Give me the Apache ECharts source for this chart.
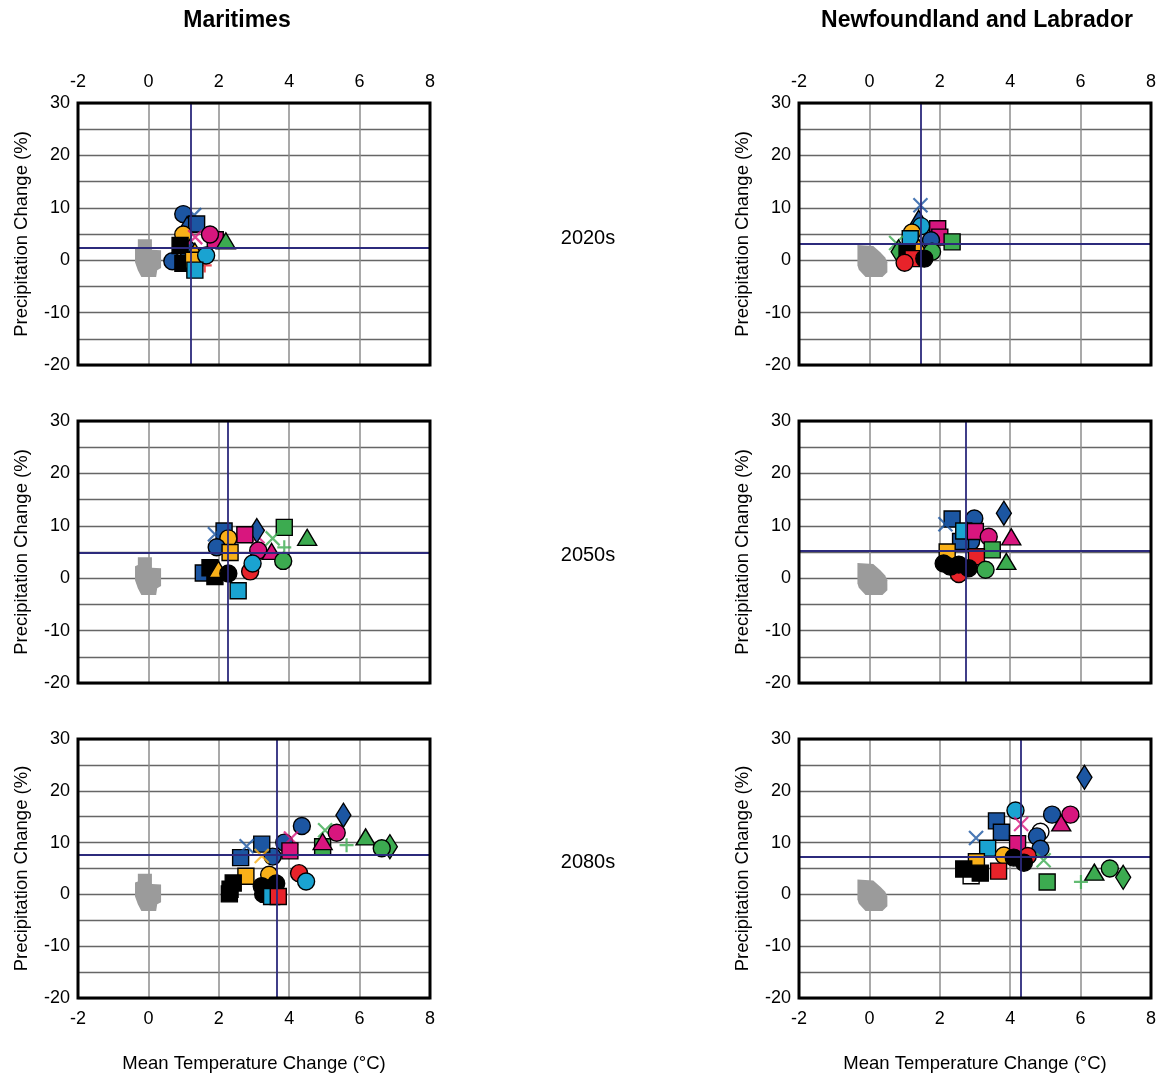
<!DOCTYPE html>
<html><head><meta charset="utf-8">
<script src="https://cdn.jsdelivr.net/npm/echarts@6/dist/echarts.min.js"></script>
<style>html,body{margin:0;padding:0;background:#fff}#c{width:1159px;height:1074px}</style>
</head><body><div id="c"></div>
<script>
// ---- data ----
const regions = ['Maritimes', 'Newfoundland and Labrador'];
const periods = ['2020s', '2050s', '2080s'];
const xTicks = [-2, 0, 2, 4, 6, 8];
const yTicks = [-20, -10, 0, 10, 20, 30];

// [modelStyle, temperature change (°C), precipitation change (%)]
const mar2020 = [
 ['navyCircle',0.99,8.8],['navyX',1.3,8.6],['navyTriangle',1.1,6.8],['navySquare',1.37,6.9],
 ['orangeCircle',0.99,4.9],['magentaX',1.33,4.4],['magentaSquare',1.9,3.9],['magentaCircle',1.75,4.9],
 ['greenTriangle',2.2,3.7],['blackSquare',0.9,2.8],['navyCircle',1.09,2.2],['orangeTriangle',1.32,1.7],
 ['blackSquare',0.98,-0.6],['navyCircle',0.68,-0.2],['orangeSquare',1.28,0.0],['redPlus',1.6,-1.0],
 ['cyanCircle',1.64,0.9],['cyanSquare',1.32,-1.9]];
const nl2020 = [
 ['navyX',1.45,10.5],['navyTriangle',1.4,8.0],['cyanCircle',1.47,6.5],['magentaSquare',1.94,6.0],
 ['orangeCircle',1.21,5.3],['cyanSquare',1.16,4.1],['magentaSquare',2.0,4.4],['greenSquare',2.35,3.5],
 ['navyCircle',1.75,3.8],['greenX',0.76,3.3],['greenDiamond',0.83,1.6],['orangeTriangle',1.4,2.5],
 ['blackSquare',1.07,1.3],['greenCircle',1.78,1.6],['redSquare',1.24,0.3],['blackCircle',1.56,0.3],
 ['redCircle',1.0,-0.5]];
const mar2050 = [
 ['navySquare',2.15,9.0],['navyX',1.89,8.4],['magentaX',3.1,8.0],['navyDiamond',3.08,9.1],['magentaSquare',2.74,8.3],
 ['greenSquare',3.86,9.7],['greenTriangle',4.51,7.8],['greenX',3.53,7.6],['greenPlus',3.86,5.9],
 ['orangeCircle',2.27,7.6],['navyCircle',1.94,5.9],['orangeSquare',2.32,4.9],['magentaCircle',3.12,5.3],
 ['magentaTriangle',3.5,5.1],['greenCircle',3.83,3.3],['redCircle',2.89,1.3],['cyanCircle',2.96,2.8],
 ['blackSquare',1.75,2.0],['orangeTriangle',1.99,1.7],['navySquare',1.56,1.0],['blackCircle',2.27,0.9],
 ['blackSquare',1.89,0.3],['cyanSquare',2.55,-2.4]];
const nl2050 = [
 ['navyDiamond',3.82,12.4],['navyCircle',2.98,11.4],['navySquare',2.35,11.3],['navyX',2.16,10.3],
 ['cyanSquare',2.68,9.0],['magentaSquare',3.01,8.9],['magentaCircle',3.39,7.9],['magentaTriangle',4.03,7.9],
 ['navySquare',2.59,7.0],['navyCircle',2.89,7.0],['greenSquare',3.49,5.4],['orangeSquare',2.21,5.0],
 ['redSquare',3.04,4.1],['greenTriangle',3.89,3.2],['redCircle',2.54,0.8],['blackCircle',2.11,2.8],
 ['blackCircle',2.30,2.2],['blackCircle',2.54,2.6],['blackCircle',2.82,1.9],['greenCircle',3.3,1.6]];
const mar2080 = [
 ['navyDiamond',5.54,15.3],['navyCircle',4.36,13.2],['greenX',5.02,12.4],['magentaCircle',5.35,11.9],
 ['greenTriangle',6.17,11.1],['greenSquare',4.95,9.2],['magentaTriangle',4.95,10.2],['greenPlus',5.63,9.5],
 ['greenDiamond',6.86,9.2],['greenCircle',6.63,8.9],['magentaX',4.05,10.8],['navyCircle',3.86,10.0],
 ['magentaSquare',4.02,8.4],['navySquare',3.22,9.7],['navyX',2.79,9.3],['orangeX',3.22,7.4],
 ['navyCircle',3.53,7.3],['navySquare',2.62,7.1],['orangeSquare',2.77,3.5],['orangeCircle',3.43,3.8],
 ['redCircle',4.28,4.1],['cyanCircle',4.48,2.5],['blackSquare',2.41,2.2],['blackSquare',2.32,1.0],
 ['blackSquare',2.3,0.1],['blackCircle',3.22,1.6],['blackCircle',3.63,2.1],['blackCircle',3.26,0.1],
 ['cyanSquare',3.5,-0.4],['redSquare',3.69,-0.4]];
const nl2080 = [
 ['navyDiamond',6.11,22.6],['cyanCircle',4.15,16.2],['navyCircle',5.19,15.4],['magentaCircle',5.71,15.4],
 ['magentaTriangle',5.45,13.8],['navySquare',3.61,14.2],['magentaX',4.31,13.6],['navySquare',3.75,12.0],
 ['whiteCircle',4.86,12.1],['navyCircle',4.76,11.2],['navyX',3.03,10.9],['magentaSquare',4.21,9.8],
 ['navyCircle',4.86,8.8],['cyanSquare',3.36,8.9],['orangeCircle',3.82,7.5],['redCircle',4.5,7.4],
 ['greenX',4.95,6.6],['blackCircle',4.1,7.1],['blackCircle',4.39,6.1],['orangeSquare',3.04,6.3],
 ['whiteSquare',2.89,3.6],['blackSquare',2.68,4.9],['blackSquare',3.15,4.1],['redSquare',3.67,4.5],
 ['greenSquare',5.05,2.4],['greenPlus',6.01,2.4],['greenTriangle',6.39,4.3],['greenCircle',6.83,5.0],
 ['greenDiamond',7.21,3.3]];

// ensemble-mean crosshair [temperature, precipitation] per period
const marMean = [[1.21,2.35],[2.26,4.85],[3.64,7.7]];
const nlMean  = [[1.45,3.1],[2.73,5.3],[4.31,7.2]];

// natural-variability cloud outlines (temperature, precipitation)
const marBlob = [[-0.3,4.0],[0.1,4.0],[0.1,2.0],[0.36,1.9],[0.36,-1.5],[0.25,-1.9],[0.22,-3.2],
 [-0.2,-3.2],[-0.3,-1.9],[-0.38,-0.4],[-0.38,2.3],[-0.3,2.5]];
const nlBlob = [[-0.34,2.9],[0.11,2.7],[0.31,1.5],[0.45,0.5],[0.51,-0.4],[0.51,-2.3],[0.37,-3.2],
 [-0.11,-3.2],[-0.3,-1.8],[-0.34,-1.0]];

// ---- styling ----
const COLORS = {navy:'#1c56a2', cyan:'#1aa3d1', orange:'#f9b019', magenta:'#d8167e',
  green:'#3cab50', red:'#e8232a', black:'#000000', white:'#ffffff'};
const SHAPES = {
  Circle:{symbol:'circle', size:17},
  Square:{symbol:'rect', size:16},
  Triangle:{symbol:'triangle', size:[19,16]},
  Diamond:{symbol:'diamond', size:[15,24]},
  X:{symbol:'path://M0,0L10,10M10,0L0,10', size:14, line:true},
  Plus:{symbol:'path://M5,0L5,10M0,5L10,5', size:14, line:true}
};
function styleOf(key){
  const m = key.match(/^([a-z]+)([A-Z][a-z]*)$/);
  return {color: COLORS[m[1]], shape: SHAPES[m[2]], white: m[1]==='white'};
}

const FONT = 'Helvetica, Arial, "Liberation Sans", sans-serif';
const colLeft = [78, 799];
const colCenter = [237, 977];
const rowTop = [103, 421, 739];
const rowMid = [238, 555, 862];
const PW = 352, PH = 262;

const panels = [
 {d:mar2020, blob:marBlob, mean:marMean[0], c:0, r:0},
 {d:nl2020,  blob:nlBlob,  mean:nlMean[0],  c:1, r:0},
 {d:mar2050, blob:marBlob, mean:marMean[1], c:0, r:1},
 {d:nl2050,  blob:nlBlob,  mean:nlMean[1],  c:1, r:1},
 {d:mar2080, blob:marBlob, mean:marMean[2], c:0, r:2},
 {d:nl2080,  blob:nlBlob,  mean:nlMean[2],  c:1, r:2}
];

const grids=[], xAxes=[], yAxes=[], series=[];
panels.forEach((p,i)=>{
  grids.push({left:colLeft[p.c], top:rowTop[p.r], width:PW, height:PH, z:20,
    show:true, borderColor:'#000', borderWidth:3, backgroundColor:'transparent'});
  xAxes.push({type:'value', gridIndex:i, min:xTicks[0], max:xTicks[xTicks.length-1], interval:2,
    position: p.r===0 ? 'top' : 'bottom',
    axisLine:{show:false}, axisTick:{show:false},
    axisLabel:{show:p.r!==1, color:'#000', fontSize:18, fontFamily:FONT, margin:12},
    splitLine:{show:true, lineStyle:{color:'#8c8c8c', width:1.5}},
    name: p.r===2 ? 'Mean Temperature Change (°C)' : '',
    nameLocation:'middle', nameGap:56,
    nameTextStyle:{color:'#000', fontSize:18.5, fontFamily:FONT}});
  yAxes.push({type:'value', gridIndex:i, min:yTicks[0], max:yTicks[yTicks.length-1], interval:5,
    axisLine:{show:false}, axisTick:{show:false},
    axisLabel:{color:'#000', fontSize:18, fontFamily:FONT, margin:8,
      formatter:v=> yTicks.includes(v) ? String(v) : ''},
    splitLine:{show:true, lineStyle:{color:'#666', width:1.3}},
    name:'Precipitation Change (%)', nameLocation:'middle', nameGap:47,
    nameTextStyle:{color:'#000', fontSize:18.5, fontFamily:FONT}});
  // variability cloud
  series.push({type:'custom', xAxisIndex:i, yAxisIndex:i, z:1, silent:true,
    data:[0],
    renderItem:(params, api)=>({type:'polygon',
      shape:{points:p.blob.map(pt=>api.coord(pt))},
      style:{fill:'#9b9b9b', stroke:null}})});
  // model markers grouped by style
  const order=[]; const groups={};
  p.d.forEach(([k,x,y])=>{ if(!groups[k]){groups[k]=[]; order.push(k);} groups[k].push([x,y]); });
  order.forEach(k=>{
    const s = styleOf(k);
    const line = s.shape.line;
    series.push({type:'scatter', xAxisIndex:i, yAxisIndex:i, z: s.white?2:3, silent:true,
      symbol:s.shape.symbol, symbolSize:s.shape.size, data:groups[k],
      itemStyle: line ? {color:'transparent', borderColor:s.color, borderWidth:2.2}
                      : {color:s.color, borderColor:'#000', borderWidth:1.4, opacity:1}});
  });
  // ensemble mean crosshair
  series.push({type:'scatter', xAxisIndex:i, yAxisIndex:i, z:10, data:[], silent:true,
    markLine:{silent:true, symbol:['none','none'], label:{show:false}, animation:false,
      lineStyle:{color:'#2c2a7c', width:1.8, type:'solid'},
      data:[{xAxis:p.mean[0]},{yAxis:p.mean[1]}]}});
});

const graphics = [];
regions.forEach((t,i)=>graphics.push({type:'text', x:colCenter[i], y:21,
  style:{text:t, fill:'#000', font:'bold 23px '+FONT, textAlign:'center', textVerticalAlign:'middle'}}));
periods.forEach((t,i)=>graphics.push({type:'text', x:588, y:rowMid[i],
  style:{text:t, fill:'#000', font:'20px '+FONT, textAlign:'center', textVerticalAlign:'middle'}}));

const chart = echarts.init(document.getElementById('c'), null, {renderer:'canvas'});
chart.setOption({animation:false, backgroundColor:'#fff', graphic:graphics,
  grid:grids, xAxis:xAxes, yAxis:yAxes, series:series});
</script></body></html>
